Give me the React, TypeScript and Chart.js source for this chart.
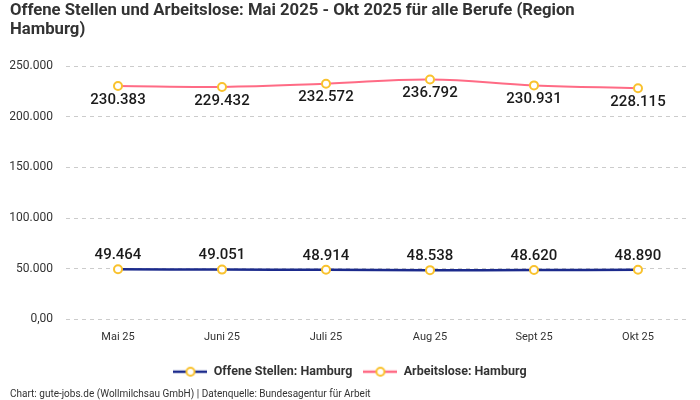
import React, { useEffect, useRef } from "react";
import Chart from "chart.js/auto";

const months = ["Mai 25", "Juni 25", "Juli 25", "Aug 25", "Sept 25", "Okt 25"];
const offeneStellen = [49464, 49051, 48914, 48538, 48620, 48890];
const arbeitslose = [230383, 229432, 232572, 236792, 230931, 228115];
const titleLines = [
  "Offene Stellen und Arbeitslose: Mai 2025 - Okt 2025 für alle Berufe (Region",
  "Hamburg)",
];
const sourceText = "Chart: gute-jobs.de (Wollmilchsau GmbH) | Datenquelle: Bundesagentur für Arbeit";

const FONT = "Roboto, 'Noto Sans', sans-serif";
const BLUE = "#1b2a8c";
const PINK = "#ff6b85";
const YELLOW = "#f9c22e";

const fmt = (v: number) => v.toLocaleString("de-DE");

// little legend icon: line with a hollow circle in the middle
const legendIcon = (color: string) => {
  const c = document.createElement("canvas");
  c.width = 34;
  c.height = 12;
  const g = c.getContext("2d")!;
  g.strokeStyle = color;
  g.lineWidth = 2.5;
  g.beginPath();
  g.moveTo(0, 6);
  g.lineTo(34, 6);
  g.stroke();
  g.fillStyle = "#fff";
  g.strokeStyle = YELLOW;
  g.lineWidth = 2;
  g.beginPath();
  g.arc(17, 6, 4, 0, Math.PI * 2);
  g.fill();
  g.stroke();
  return c;
};

const valueLabels = {
  id: "valueLabels",
  afterDatasetsDraw(chart: any) {
    const ctx = chart.ctx;
    ctx.save();
    ctx.font = `500 15px ${FONT}`;
    ctx.fillStyle = "#1a1a1a";
    ctx.textAlign = "center";
    ctx.textBaseline = "middle";
    chart.data.datasets.forEach((ds: any, i: number) => {
      const meta = chart.getDatasetMeta(i);
      meta.data.forEach((pt: any, j: number) => {
        const dy = ds.labelPos === "below" ? 14 : -14;
        ctx.fillText(fmt(ds.data[j]), pt.x, pt.y + dy);
      });
    });
    ctx.restore();
  },
};

const LineChart = () => {
  const chartRef = useRef<HTMLCanvasElement | null>(null);

  useEffect(() => {
    if (!chartRef.current) return;
    const ctx = chartRef.current.getContext("2d");
    if (!ctx) return;

    const icons = [legendIcon(BLUE), legendIcon(PINK)];

    const chart = new Chart(ctx, {
      type: "line",
      data: {
        labels: months,
        datasets: [
          {
            label: "Offene Stellen: Hamburg",
            data: offeneStellen,
            borderColor: BLUE,
            borderWidth: 2.5,
            backgroundColor: "#fff",
            pointBorderColor: YELLOW,
            pointBackgroundColor: "#fff",
            pointBorderWidth: 2,
            pointRadius: 4,
            tension: 0.4,
            labelPos: "above",
          } as any,
          {
            label: "Arbeitslose: Hamburg",
            data: arbeitslose,
            borderColor: PINK,
            borderWidth: 2,
            backgroundColor: "#fff",
            pointBorderColor: YELLOW,
            pointBackgroundColor: "#fff",
            pointBorderWidth: 2,
            pointRadius: 4,
            tension: 0.4,
            labelPos: "below",
          } as any,
        ],
      },
      options: {
        animation: false,
        responsive: true,
        maintainAspectRatio: false,
        layout: { padding: { left: 10, right: 10, top: 0, bottom: 0 } },
        plugins: {
          title: {
            display: true,
            text: titleLines,
            align: "start",
            color: "#333",
            font: { family: FONT, size: 16.7, weight: "bold", lineHeight: 1.17 },
            padding: { top: 1, bottom: 26 },
          },
          subtitle: {
            display: true,
            text: sourceText,
            position: "bottom",
            align: "start",
            color: "#333",
            font: { family: FONT, size: 10 },
            padding: { top: 0, bottom: 0 },
          },
          legend: {
            position: "bottom",
            labels: {
              usePointStyle: true,
              pointStyleWidth: 34,
              color: "#333",
              font: { family: FONT, size: 12.5, weight: "bold" },
              padding: 11,
              generateLabels: (c: any) =>
                Chart.defaults.plugins.legend.labels
                  .generateLabels(c)
                  .map((l: any, i: number) => ({ ...l, pointStyle: icons[i] })),
            },
          },
          tooltip: { enabled: false },
        },
        scales: {
          x: {
            offset: true,
            grid: { display: false, drawTicks: false },
            border: { display: false },
            ticks: { color: "#333", font: { family: FONT, size: 11 }, padding: 11 },
          },
          y: {
            min: 0,
            max: 250000,
            border: { display: false, dash: [4, 4] },
            grid: { color: "#cccccc", drawTicks: false },
            afterFit: (s: any) => {
              s.width = 56;
            },
            ticks: {
              stepSize: 50000,
              color: "#333",
              font: { family: FONT, size: 12 },
              padding: 13,
              callback: (v: any) => (v === 0 ? "0,00" : fmt(Number(v))),
            },
          },
        },
      },
      plugins: [valueLabels],
    });

    return () => {
      chart.destroy();
    };
  }, []);

  return <canvas ref={chartRef} />;
};

export default function App() {
  useEffect(() => {
    document.body.style.margin = "0";
  }, []);
  return (
    <div style={{ width: 700, height: 400, position: "relative", background: "#fff" }}>
      <LineChart />
    </div>
  );
}
